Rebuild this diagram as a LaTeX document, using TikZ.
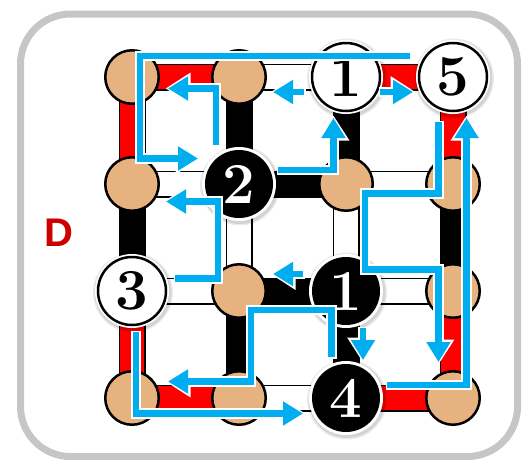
\documentclass[tikz,border=0pt]{standalone}
\usepackage{fontspec}
\usetikzlibrary{arrows.meta}
\newfontfamily\dfont{Liberation Sans}
\definecolor{tanc}{RGB}{229,178,128}
\definecolor{skyb}{RGB}{0,174,239}
\definecolor{redd}{RGB}{255,0,0}
\definecolor{dred}{RGB}{204,0,0}
\definecolor{framec}{RGB}{198,198,198}
\begin{document}
\begin{tikzpicture}[x=1pt,y=-1pt,
  barout/.style={line width=27pt, black},
  redbar/.style={line width=23.5pt, redd},
  whitebar/.style={line width=23.5pt, white},
  blackbar/.style={line width=23.5pt, black},
  tannode/.style={circle, fill=tanc, draw=black, line width=2.5pt, minimum size=53.5pt, inner sep=0pt},
  numnode/.style={circle, inner sep=0pt, font=\fontsize{58}{58}\selectfont\bfseries},
  wnode/.style={numnode, fill=white, draw=black, line width=2.5pt, minimum size=68pt, text=black},
  bnode/.style={numnode, fill=black, minimum size=68pt, text=white},
  wcase/.style={white, line width=10.5pt, shorten >=-2.5pt, shorten <=-1.5pt, -{Triangle[length=25pt,width=30pt]}},
  bline/.style={skyb, line width=6.5pt, -{Triangle[length=20pt,width=23pt]}},
  framest/.style={framec, line width=7pt, rounded corners=50pt},
  labst/.style={text=dred, font=\dfont\bfseries\fontsize{40}{40}\selectfont}
]
\useasboundingbox (0,0) rectangle (530,459);
\draw[framest] (20.5,14) rectangle (517.5,456.5);
\node[labst] (lab) at (59,233) {D};

% grid coordinates
\foreach \c/\x in {1/132,2/239,3/346,4/453}{
  \foreach \r/\y in {1/77,2/184,3/291,4/398}{
    \coordinate (g\r\c) at (\x,\y);
  }
}

% bars: outline first
\foreach \a/\b in {g11/g12,g12/g13,g13/g14,g21/g22,g22/g23,g23/g24,g31/g32,g32/g33,g33/g34,g41/g42,g42/g43,g43/g44,
                  g11/g21,g21/g31,g31/g41,g12/g22,g22/g32,g32/g42,g13/g23,g23/g33,g33/g43,g14/g24,g24/g34,g34/g44}{
  \draw[barout] (\a) -- (\b);
}
\foreach \a/\b in {g11/g12,g13/g14,g41/g42,g43/g44,g11/g21,g31/g41,g14/g24,g34/g44}{
  \draw[redbar] (\a) -- (\b);
}
\foreach \a/\b in {g12/g13,g21/g22,g23/g24,g31/g32,g33/g34,g42/g43,g22/g32,g23/g33}{
  \draw[whitebar] (\a) -- (\b);
}

% tan nodes
\foreach \p in {11,12,21,23,24,32,34,41,42,44}{
  \node[tannode] (n\p) at (g\p) {};
}

% halos for numbered nodes
\foreach \p in {13,14,22,31,33,43}{
  \fill[black, opacity=.08] ([shift={(1,1.5)}]g\p) circle (40pt);
  \fill[black, opacity=.10] ([shift={(1,1.5)}]g\p) circle (38.5pt);
  \fill[white] (g\p) circle (37pt);
}
\node[wnode] (n13) at (g13) {1};
\node[wnode] (n14) at (g14) {5};
\node[bnode] (n22) at (g22) {2};
\node[wnode] (n31) at (g31) {3};
\node[bnode] (n33) at (g33) {1};
\node[bnode] (n43) at (g43) {4};

% arrow end points
\coordinate (s1) at (410,56);   \coordinate (e1) at (198,158.5);
\coordinate (s2) at (216,145);  \coordinate (e2) at (168,88.5);
\coordinate (s3) at (304,92);   \coordinate (e3) at (273,92);
\coordinate (s4) at (380,92);   \coordinate (e4) at (413,92);
\coordinate (s5) at (278,170);  \coordinate (e5) at (333.5,118);
\coordinate (s6) at (175,278.5);\coordinate (e6) at (166,201.5);
\coordinate (s7) at (303,274);  \coordinate (e7) at (273,274);
\coordinate (s8) at (331.5,357);\coordinate (e8) at (168,381.5);
\coordinate (s9) at (363,328);  \coordinate (e9) at (363,360);
\coordinate (s10) at (136,332); \coordinate (e10) at (303,413.5);
\coordinate (s11) at (438.5,122);\coordinate (e11) at (438.5,362);
\coordinate (s12) at (387,385); \coordinate (e12) at (466.5,118);

\foreach \st in {wcase,bline}{
  \draw[\st] (s1) -- (140,56) -- (140,158.5) -- (e1);
  \draw[\st] (s2) -- (216,88.5) -- (e2);
  \draw[\st] (s3) -- (e3);
  \draw[\st] (s4) -- (e4);
  \draw[\st] (s5) -- (333.5,170) -- (e5);
  \draw[\st] (s6) -- (218,278.5) -- (218,201.5) -- (e6);
  \draw[\st] (s7) -- (e7);
  \draw[\st] (s8) -- (331.5,310) -- (251,310) -- (251,381.5) -- (e8);
  \draw[\st] (s9) -- (e9);
  \draw[\st] (s10) -- (136,413.5) -- (e10);
  \draw[\st] (s11) -- (438.5,193.5) -- (365,193.5) -- (365,269.5) -- (438.5,269.5) -- (e11);
  \draw[\st] (s12) -- (466.5,385) -- (e12);
}
\end{tikzpicture}
\end{document}
